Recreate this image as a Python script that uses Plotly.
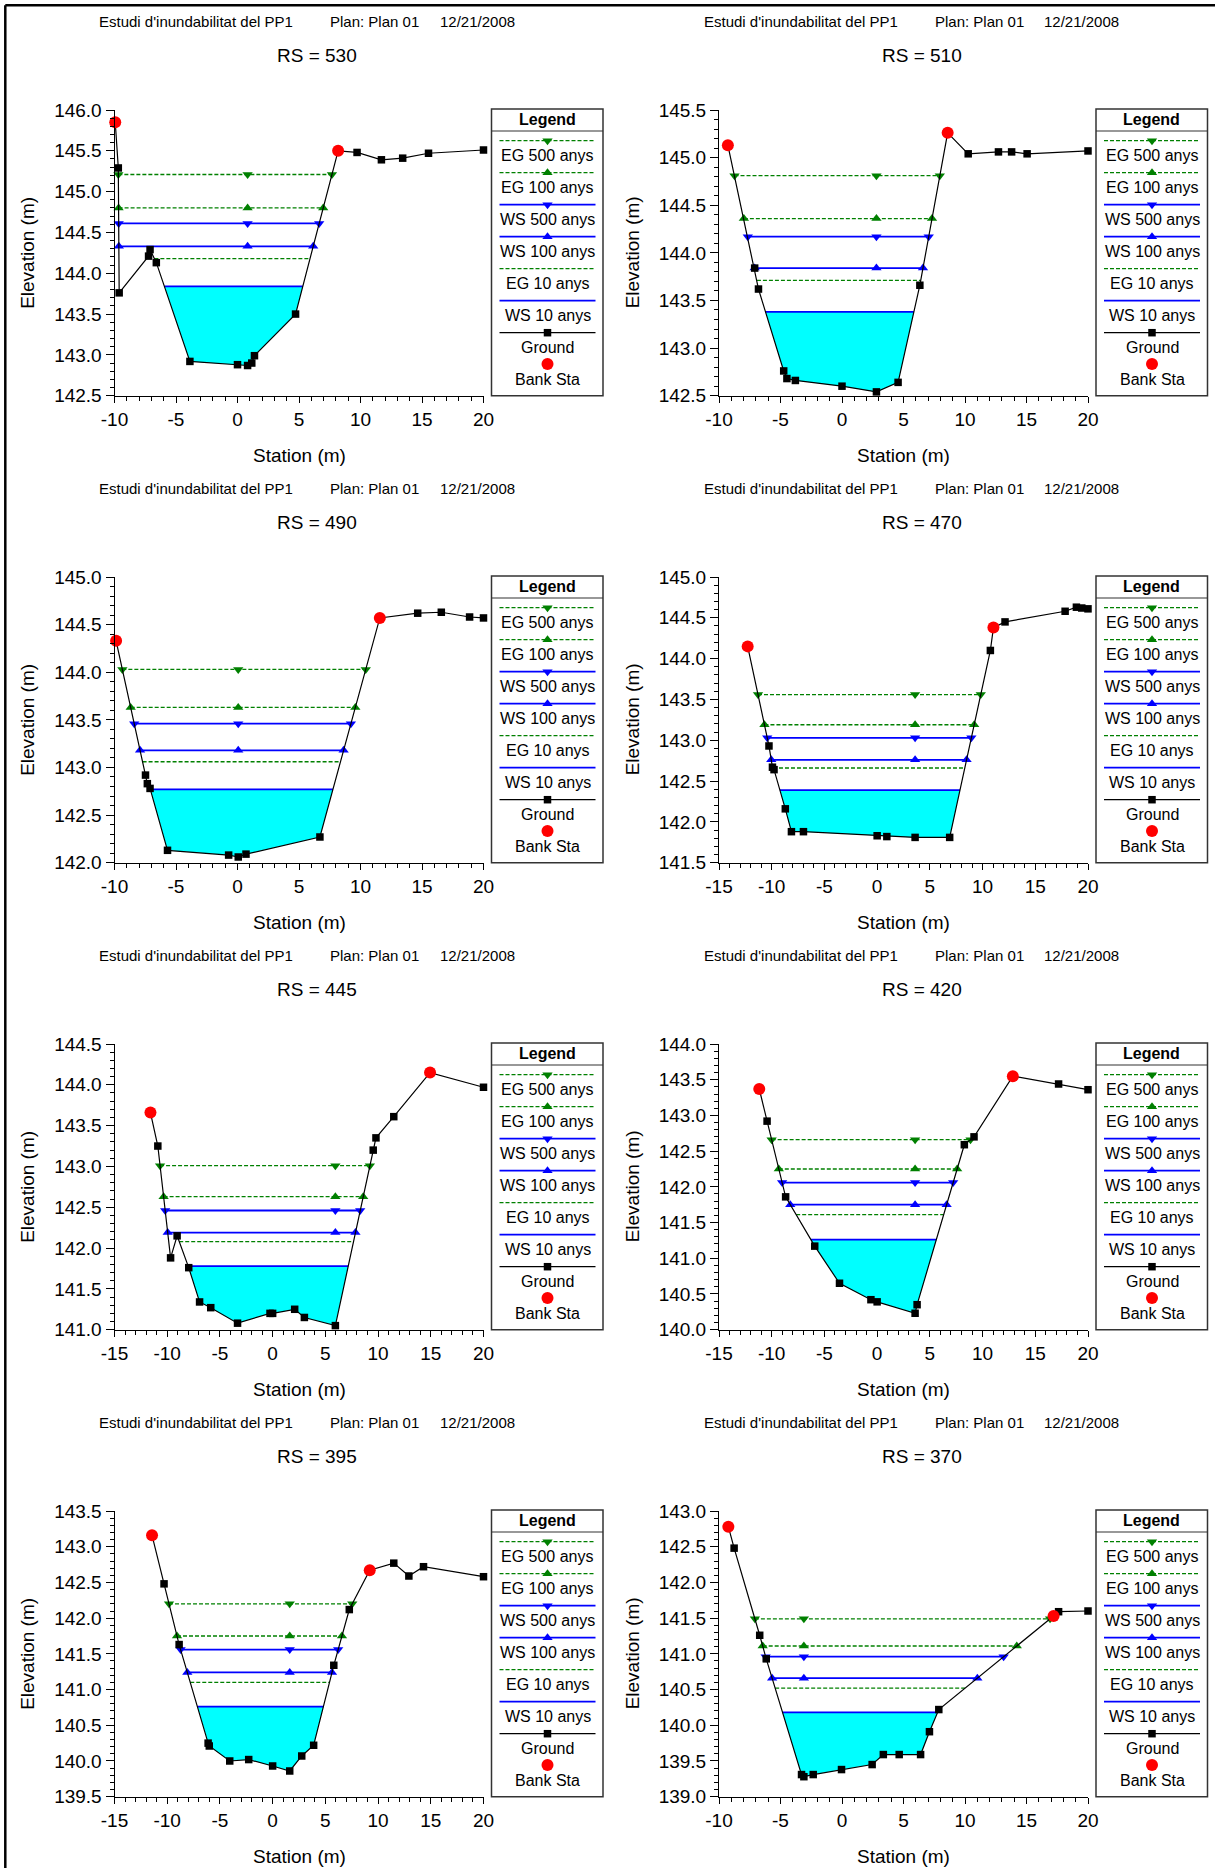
import numpy as np
import plotly.graph_objects as go

W, H = 1215, 1868

# ---------------- data ----------------
rs_labels = ["530", "510", "490", "470", "445", "420", "395", "370"]
profile_names = ["EG 500 anys", "EG 100 anys", "WS 500 anys", "WS 100 anys", "EG 10 anys", "WS 10 anys"]
legend_names = profile_names + ["Ground", "Bank Sta"]

# RS 530
station_530 = [-9.94, -9.69, -9.62, -7.23, -7.11, -6.60, -3.87, 0.00, 0.82, 1.16, 1.38, 4.72, 8.18, 9.72, 11.70, 13.43, 15.53, 20.00]
elev_530 = [145.85, 145.29, 143.76, 144.21, 144.29, 144.13, 142.92, 142.88, 142.87, 142.90, 142.99, 143.50, 145.50, 145.48, 145.39, 145.41, 145.47, 145.51]
banks_530 = [-9.94, 8.18]
levels_530 = [145.21, 144.80, 144.61, 144.33, 144.18, 143.84]

# RS 510
station_510 = [-9.28, -7.10, -6.79, -4.74, -4.48, -3.79, 0.00, 2.80, 4.56, 6.33, 8.59, 10.26, 12.72, 13.79, 15.05, 20.00]
elev_510 = [145.13, 143.84, 143.62, 142.76, 142.68, 142.66, 142.60, 142.54, 142.64, 143.66, 145.26, 145.04, 145.06, 145.06, 145.04, 145.07]
banks_510 = [-9.28, 8.59]
levels_510 = [144.81, 144.36, 144.17, 143.84, 143.71, 143.38]

# RS 490
station_490 = [-9.87, -7.48, -7.33, -7.11, -5.69, -0.72, 0.06, 0.69, 6.70, 11.57, 14.65, 16.57, 18.87, 20.00]
elev_490 = [144.33, 142.92, 142.83, 142.78, 142.13, 142.08, 142.06, 142.09, 142.27, 144.57, 144.62, 144.63, 144.58, 144.57]
banks_490 = [-9.87, 11.57]
levels_490 = [144.03, 143.63, 143.46, 143.18, 143.06, 142.77]

# RS 470
station_470 = [-12.28, -10.26, -9.93, -9.78, -8.71, -8.13, -6.99, 0.00, 0.92, 3.60, 6.88, 10.74, 11.03, 12.13, 17.83, 18.90, 19.41, 20.00]
elev_470 = [144.15, 142.93, 142.67, 142.64, 142.16, 141.88, 141.88, 141.83, 141.82, 141.81, 141.81, 144.10, 144.38, 144.45, 144.58, 144.63, 144.62, 144.61]
banks_470 = [-12.28, 11.03]
levels_470 = [143.56, 143.19, 143.03, 142.76, 142.66, 142.39]

# RS 445
station_445 = [-11.59, -10.89, -9.68, -9.06, -7.96, -6.93, -5.87, -3.33, -0.25, 0.00, 2.09, 3.01, 5.95, 9.54, 9.80, 11.49, 14.93, 20.00]
elev_445 = [143.66, 143.25, 141.88, 142.15, 141.76, 141.34, 141.27, 141.08, 141.20, 141.20, 141.25, 141.15, 141.05, 143.20, 143.35, 143.61, 144.15, 143.97]
banks_445 = [-11.59, 14.93]
levels_445 = [143.01, 142.63, 142.46, 142.19, 142.08, 141.78]

# RS 420
station_420 = [-11.18, -10.44, -8.68, -5.92, -3.57, -0.59, 0.00, 3.60, 3.79, 8.27, 9.19, 12.87, 17.21, 20.00]
elev_420 = [143.37, 142.92, 141.86, 141.17, 140.65, 140.42, 140.39, 140.23, 140.35, 142.59, 142.70, 143.55, 143.44, 143.36]
banks_420 = [-11.18, 12.87]
levels_420 = [142.66, 142.25, 142.06, 141.75, 141.61, 141.26]

# RS 395
station_395 = [-11.44, -10.30, -8.87, -6.12, -6.01, -4.07, -2.27, 0.00, 1.62, 2.76, 3.89, 5.80, 7.27, 9.21, 11.49, 12.92, 14.31, 20.00]
elev_395 = [143.16, 142.48, 141.63, 140.25, 140.21, 140.00, 140.02, 139.93, 139.86, 140.07, 140.22, 141.34, 142.12, 142.67, 142.77, 142.59, 142.72, 142.58]
banks_395 = [-11.44, 9.21]
levels_395 = [142.20, 141.75, 141.56, 141.24, 141.10, 140.76]

# RS 370
station_370 = [-9.24, -8.77, -6.69, -6.16, -3.29, -3.10, -2.34, -0.04, 2.45, 3.36, 4.65, 6.39, 7.11, 7.87, 17.20, 17.61, 20.00]
elev_370 = [142.78, 142.48, 141.26, 140.93, 139.31, 139.28, 139.31, 139.38, 139.45, 139.59, 139.59, 139.59, 139.91, 140.22, 141.53, 141.59, 141.60]
banks_370 = [-9.24, 17.20]
levels_370 = [141.49, 141.11, 140.96, 140.66, 140.52, 140.18]

x_min = [-10, -10, -10, -15, -15, -15, -15, -10]
x_max = [20, 20, 20, 20, 20, 20, 20, 20]
y_min = [142.5, 142.5, 142.0, 141.5, 141.0, 140.0, 139.5, 139.0]
y_max = [146.0, 145.5, 145.0, 145.0, 144.5, 144.0, 143.5, 143.0]

stations = [station_530, station_510, station_490, station_470, station_445, station_420, station_395, station_370]
elevs = [elev_530, elev_510, elev_490, elev_470, elev_445, elev_420, elev_395, elev_370]
banks = [banks_530, banks_510, banks_490, banks_470, banks_445, banks_420, banks_395, banks_370]
levels = [levels_530, levels_510, levels_490, levels_470, levels_445, levels_420, levels_395, levels_370]

# ---------------- styles ----------------
FONT = "Arial, 'Liberation Sans', sans-serif"
GREEN = "#008000"
BLUE = "#0000FF"
CYAN = "#00FFFF"
prof_color = [GREEN, GREEN, BLUE, BLUE, GREEN, BLUE]
prof_dash = ["4px,2px", "4px,2px", "solid", "solid", "4px,2px", "solid"]
prof_width = [1.3, 1.3, 1.8, 1.8, 1.3, 1.8]
prof_symbol = ["triangle-down", "triangle-up", "triangle-down", "triangle-up", None, None]

ROW_PITCH = 467.0
PLOT_TOP, PLOT_BOT = 110.0, 395.7
COL_LEFT = [114.5, 719.0]
COL_RIGHT = [483.5, 1088.0]
LEG_LEFT = [491.5, 1096.0]
LEG_W = 111.5


def extent(x, y, lvl):
    x = np.asarray(x, float)
    y = np.asarray(y, float)
    k = int(np.argmin(y))
    i = k
    while i > 0 and y[i - 1] < lvl:
        i -= 1
    if i > 0:
        x0, y0, x1, y1 = x[i - 1], y[i - 1], x[i], y[i]
        xl = x0 + (lvl - y0) * (x1 - x0) / (y1 - y0)
    else:
        xl = x[0]
    j = k
    while j < len(x) - 1 and y[j + 1] < lvl:
        j += 1
    if j < len(x) - 1:
        x0, y0, x1, y1 = x[j], y[j], x[j + 1], y[j + 1]
        xr = x0 + (lvl - y0) * (x1 - x0) / (y1 - y0)
    else:
        xr = x[-1]
    return xl, xr, i, j, k


fig = go.Figure()
layout = {}
annotations = []
shapes = []

for p, rs in enumerate(rs_labels):
    r, c = divmod(p, 2)
    ax = "" if p == 0 else str(p + 1)
    xa, ya = "x" + ax, "y" + ax
    top = PLOT_TOP + r * ROW_PITCH
    bot = PLOT_BOT + r * ROW_PITCH
    left, right = COL_LEFT[c], COL_RIGHT[c]

    xt = list(np.arange(x_min[p], x_max[p] + 0.01, 5))
    yt = list(np.round(np.arange(y_min[p], y_max[p] + 0.001, 0.5), 1))

    layout["xaxis" + ax] = dict(
        domain=[left / W, right / W], anchor=ya, range=[x_min[p], x_max[p]],
        tickmode="array", tickvals=xt, ticktext=["%d" % v for v in xt],
        ticks="outside", ticklen=6, tickwidth=1,
        tickcolor="black", showline=True, linecolor="black", linewidth=1,
        showgrid=False, zeroline=False, tickfont=dict(family=FONT, size=19, color="black"),
        minor=dict(tickmode="linear", tick0=0, dtick=1, ticks="outside", ticklen=4,
                   tickcolor="black", showgrid=False),
        fixedrange=True, automargin=False,
    )
    layout["yaxis" + ax] = dict(
        domain=[1 - bot / H, 1 - top / H], anchor=xa, range=[y_min[p], y_max[p]],
        tickmode="array", tickvals=yt, ticktext=["%.1f" % v for v in yt],
        ticks="outside", ticklen=8,
        tickwidth=1, tickcolor="black", showline=True, linecolor="black", linewidth=1,
        showgrid=False, zeroline=False, tickfont=dict(family=FONT, size=19, color="black"),
        minor=dict(tickmode="linear", tick0=0, dtick=0.1, ticks="outside", ticklen=4,
                   tickcolor="black", showgrid=False),
        fixedrange=True, automargin=False,
    )

    st, el, lv = stations[p], elevs[p], levels[p]
    thal_x = st[int(np.argmin(el))]

    # water fill for WS 10
    w10 = lv[5]
    xl, xr, i, j, k = extent(st, el, w10)
    px = [xl] + list(st[i:j + 1]) + [xr]
    py = [w10] + list(el[i:j + 1]) + [w10]
    fig.add_trace(go.Scatter(x=px, y=py, xaxis=xa, yaxis=ya, mode="lines", fill="toself",
                             fillcolor=CYAN, line=dict(width=0, color=CYAN), hoverinfo="skip"))

    # profile lines
    for q in [5, 4, 3, 2, 1, 0]:
        lvl = lv[q]
        xl, xr, _, _, _ = extent(st, el, lvl)
        if prof_symbol[q]:
            fig.add_trace(go.Scatter(
                x=[xl, thal_x, xr], y=[lvl] * 3, xaxis=xa, yaxis=ya, mode="lines+markers",
                line=dict(color=prof_color[q], width=prof_width[q], dash=prof_dash[q]),
                marker=dict(symbol=prof_symbol[q], size=9, color=prof_color[q], line=dict(width=0)),
                cliponaxis=False))
        else:
            fig.add_trace(go.Scatter(
                x=[xl, xr], y=[lvl] * 2, xaxis=xa, yaxis=ya, mode="lines",
                line=dict(color=prof_color[q], width=prof_width[q], dash=prof_dash[q])))

    # ground
    fig.add_trace(go.Scatter(x=st, y=el, xaxis=xa, yaxis=ya, mode="lines+markers",
                             line=dict(color="black", width=1.2),
                             marker=dict(symbol="square", size=7.5, color="black"),
                             cliponaxis=False))
    # bank stations
    fig.add_trace(go.Scatter(x=banks[p], y=list(np.interp(banks[p], st, el)), xaxis=xa, yaxis=ya,
                             mode="markers", marker=dict(symbol="circle", size=12, color="#FF0000"),
                             cliponaxis=False))

    # texts (pixel coordinates on overlay axis)
    y0 = r * ROW_PITCH
    for txt, dx in [("Estudi d'inundabilitat del PP1", -17.5), ("Plan: Plan 01", 213.5), ("12/21/2008", 323.2)]:
        annotations.append(dict(x=left + dx, y=y0 + 21.7, xref="x9", yref="y9", text=txt,
                                showarrow=False, xanchor="left", yanchor="middle",
                                font=dict(family=FONT, size=15, color="black")))
    annotations.append(dict(x=left + 202.5, y=y0 + 55, xref="x9", yref="y9", text="RS = " + rs,
                            showarrow=False, xanchor="center", yanchor="middle",
                            font=dict(family=FONT, size=19, color="black")))
    annotations.append(dict(x=(left + right) / 2, y=y0 + 455, xref="x9", yref="y9", text="Station (m)",
                            showarrow=False, xanchor="center", yanchor="middle",
                            font=dict(family=FONT, size=19, color="black")))
    annotations.append(dict(x=left - 86.5, y=(top + bot) / 2, xref="x9", yref="y9", text="Elevation (m)",
                            textangle=-90, showarrow=False, xanchor="center", yanchor="middle",
                            font=dict(family=FONT, size=19, color="black")))

    # legend box
    lx0 = LEG_LEFT[c]
    lx1 = lx0 + LEG_W
    shapes.append(dict(type="rect", xref="x9", yref="y9", x0=lx0, x1=lx1, y0=y0 + 109, y1=y0 + 395.7,
                       line=dict(color="#333333", width=1.5), fillcolor="rgba(0,0,0,0)"))
    shapes.append(dict(type="line", xref="x9", yref="y9", x0=lx0, x1=lx1, y0=y0 + 131, y1=y0 + 131,
                       line=dict(color="#333333", width=1.2)))
    annotations.append(dict(x=lx0 + LEG_W / 2, y=y0 + 119, xref="x9", yref="y9", text="<b>Legend</b>",
                            showarrow=False, xanchor="center", yanchor="middle",
                            font=dict(family=FONT, size=16, color="black")))
    cx = lx0 + 56
    for e, name in enumerate(legend_names):
        ly = y0 + 140.7 + 32.0 * e
        ty = y0 + 155.0 + 32.0 * e
        annotations.append(dict(x=cx, y=ty, xref="x9", yref="y9", text=name, showarrow=False,
                                xanchor="center", yanchor="middle",
                                font=dict(family=FONT, size=16, color="black")))
        if e < 6:
            fig.add_trace(go.Scatter(x=[lx0 + 8, lx0 + 104], y=[ly, ly], xaxis="x9", yaxis="y9", mode="lines",
                                     line=dict(color=prof_color[e], width=prof_width[e], dash=prof_dash[e])))
            if prof_symbol[e]:
                fig.add_trace(go.Scatter(x=[cx], y=[ly], xaxis="x9", yaxis="y9", mode="markers",
                                         marker=dict(symbol=prof_symbol[e], size=9, color=prof_color[e])))
        elif e == 6:
            fig.add_trace(go.Scatter(x=[lx0 + 8, cx, lx0 + 104], y=[ly, ly, ly], xaxis="x9", yaxis="y9",
                                     mode="lines", line=dict(color="black", width=1.2)))
            fig.add_trace(go.Scatter(x=[cx], y=[ly], xaxis="x9", yaxis="y9", mode="markers",
                                     marker=dict(symbol="square", size=7.5, color="black")))
        else:
            fig.add_trace(go.Scatter(x=[cx], y=[y0 + 364], xaxis="x9", yaxis="y9", mode="markers",
                                     marker=dict(symbol="circle", size=12, color="#FF0000")))

# outer frame (top and left)
shapes.append(dict(type="line", xref="x9", yref="y9", x0=5.3, x1=W, y0=5.3, y1=5.3,
                   line=dict(color="black", width=2.5)))
shapes.append(dict(type="line", xref="x9", yref="y9", x0=5.3, x1=5.3, y0=5.3, y1=H,
                   line=dict(color="black", width=2.5)))

layout["xaxis9"] = dict(domain=[0, 1], range=[0, W], visible=False, anchor="y9",
                        fixedrange=True, automargin=False)
layout["yaxis9"] = dict(domain=[0, 1], range=[H, 0], visible=False, anchor="x9",
                        fixedrange=True, automargin=False)

fig.update_layout(width=W, height=H, margin=dict(l=0, r=0, t=0, b=0, pad=0, autoexpand=False),
                  paper_bgcolor="white", plot_bgcolor="rgba(0,0,0,0)", showlegend=False,
                  annotations=annotations, shapes=shapes, font=dict(family=FONT), **layout)

fig.write_html("out.html",
               config={"displayModeBar": False},
               post_script="document.body.style.margin='0px';document.body.style.padding='0px';"
                           "document.body.style.overflow='hidden';")
